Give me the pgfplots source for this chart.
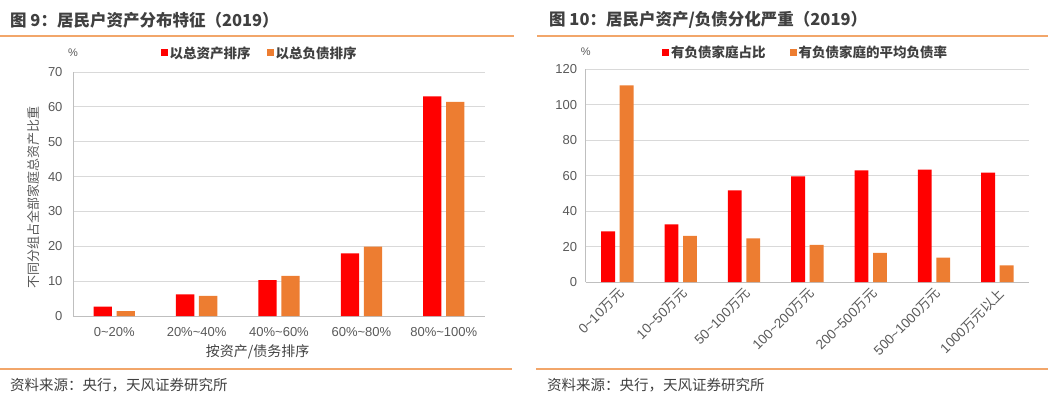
\documentclass[border=0pt]{standalone}
\usepackage{fontspec}
\setmainfont{Liberation Sans}
\newfontfamily\cjk{Noto Sans CJK SC}
\usepackage{pgfplots}
\pgfplotsset{compat=1.18}
\definecolor{cred}{HTML}{FF0000}
\definecolor{corange}{HTML}{ED7D31}
\definecolor{ttl}{HTML}{404040}
\definecolor{txt}{HTML}{595959}
\definecolor{gridc}{HTML}{D9D9D9}
\definecolor{axc}{HTML}{BFBFBF}
\definecolor{linec}{HTML}{F2A66A}
\pgfplotsset{
  mystyle/.style={
    scale only axis,
    anchor=south west,
    axis x line*=bottom, axis y line*=left,
    axis line style={-, draw=axc, line width=0.8pt},
    ymajorgrids, grid style={draw=gridc, line width=0.8pt},
    major tick length=0pt,
    tick label style={font=\fontsize{13}{15}\selectfont, text=txt},
    /pgf/number format/assume math mode=true,
    ybar=4.7pt,
    enlarge y limits=false,
    legend style={draw=none, fill=none, legend columns=2,
      font=\cjk\bfseries\fontsize{13.5}{15}\selectfont, text=ttl,
      anchor=west},
    legend image code/.code={\fill[##1] (0pt,-3.5pt) rectangle (7pt,3.5pt);},
  }
}
\begin{document}
\begin{tikzpicture}
\path[use as bounding box] (0,0) rectangle (1048pt,-399pt);
% titles and rules
\node[anchor=west, font=\cjk\bfseries\fontsize{16.5}{19}\selectfont, text=ttl, inner sep=0] at (10pt,-20pt) {图 9：居民户资产分布特征（2019）};
\node[anchor=west, font=\cjk\bfseries\fontsize{16.5}{19}\selectfont, text=ttl, inner sep=0] at (549pt,-20pt) {图 10：居民户资产/负债分化严重（2019）};
\draw[linec, line width=1.5pt] (0pt,-36pt) -- (514pt,-36pt);
\draw[linec, line width=1.5pt] (537pt,-36pt) -- (1048pt,-36pt);
\draw[linec, line width=1.5pt] (0pt,-369pt) -- (512pt,-369pt);
\draw[linec, line width=1.5pt] (536pt,-369pt) -- (1048pt,-369pt);
\node[anchor=west, font=\cjk\fontsize{14.5}{16}\selectfont, text=ttl, inner sep=0] at (10pt,-385pt) {资料来源：央行，天风证券研究所};
\node[anchor=west, font=\cjk\fontsize{14.5}{16}\selectfont, text=ttl, inner sep=0] at (547pt,-385pt) {资料来源：央行，天风证券研究所};

% left chart
\begin{axis}[mystyle,
  at={(73pt,-316pt)}, width=412pt, height=244pt,
  xmin=-0.5, xmax=4.5, ymin=0, ymax=70,
  ytick={0,10,...,70},
  xtick={0,1,2,3,4},
  xticklabels={0\textasciitilde20\%, 20\%\textasciitilde40\%, 40\%\textasciitilde60\%, 60\%\textasciitilde80\%, 80\%\textasciitilde100\%},
  xticklabel style={yshift=-8pt},
  yticklabel style={xshift=-7pt},
  bar width=18.3pt,
  ylabel={\cjk 不同分组占全部家庭总资产比重},
  ylabel style={at={(axis description cs:-0.097,0.484)}, anchor=center, font=\fontsize{13}{15}\selectfont, text=txt},
  xlabel={\cjk 按资产/债务排序},
  xlabel style={at={(axis description cs:0.448,-0.148)}, anchor=center, font=\fontsize{14}{16}\selectfont, text=ttl},
  legend style={at={(axis description cs:0.205,1.078)}},
  /tikz/every even column/.append style={column sep=14pt},
  clip=false,
]
\addplot[fill=cred, draw=none] coordinates {(0,2.7) (1,6.2) (2,10.3) (3,18.0) (4,63.0)};
\addplot[fill=corange, draw=none] coordinates {(0,1.4) (1,5.8) (2,11.5) (3,19.9) (4,61.4)};
\legend{以总资产排序, 以总负债排序}
\node[font=\fontsize{11}{13}\selectfont, text=txt] at (axis description cs:0,1.078) {\%};
\end{axis}

% right chart
\begin{axis}[mystyle,
  at={(585.7pt,-282pt)}, width=443.3pt, height=212.7pt,
  xmin=-0.5, xmax=6.5, ymin=0, ymax=120,
  ytick={0,20,...,120},
  xtick={0,1,2,3,4,5,6},
  xticklabels={0\textasciitilde10{\cjk 万元}, 10\textasciitilde50{\cjk 万元}, 50\textasciitilde100{\cjk 万元}, 100\textasciitilde200{\cjk 万元}, 200\textasciitilde500{\cjk 万元}, 500\textasciitilde1000{\cjk 万元}, 1000{\cjk 万元以上}},
  xticklabel style={rotate=45, anchor=north east, font=\fontsize{13.5}{15}\selectfont},
  yticklabel style={xshift=-5pt},
  bar width=13.8pt,
  legend style={at={(axis description cs:0.165,1.081)}},
  /tikz/every even column/.append style={column sep=22pt},
  clip=false,
]
\addplot[fill=cred, draw=none] coordinates {(0,28.6) (1,32.5) (2,51.7) (3,59.6) (4,63.0) (5,63.4) (6,61.7)};
\addplot[fill=corange, draw=none] coordinates {(0,111.0) (1,26.0) (2,24.6) (3,20.9) (4,16.5) (5,13.7) (6,9.4)};
\legend{有负债家庭占比, 有负债家庭的平均负债率}
\node[font=\fontsize{11}{13}\selectfont, text=txt] at (axis description cs:0,1.081) {\%};
\end{axis}
\end{tikzpicture}
\end{document}
